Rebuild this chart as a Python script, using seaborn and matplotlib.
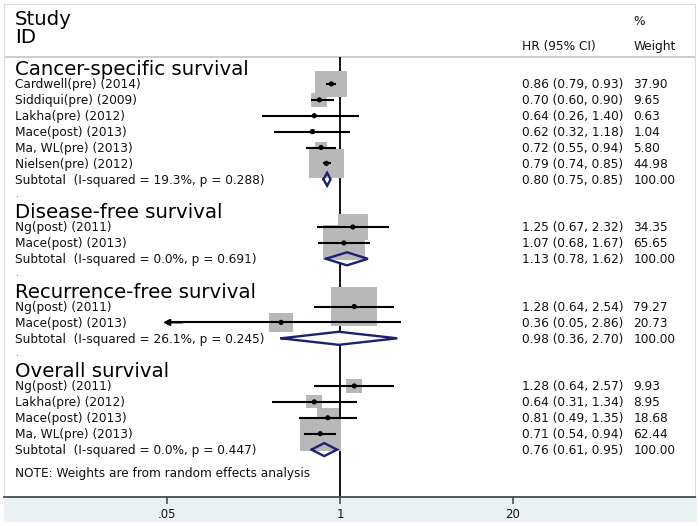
import numpy as np
import pandas as pd
import matplotlib
matplotlib.use("Agg")
import matplotlib.pyplot as plt
from matplotlib.path import Path
from matplotlib.patches import Rectangle
import seaborn as sns

# ---- data ----
groups = ["Cancer-specific survival", "Disease-free survival",
          "Recurrence-free survival", "Overall survival"]

study_names = [
    ["Cardwell(pre) (2014)", "Siddiqui(pre) (2009)", "Lakha(pre) (2012)",
     "Mace(post) (2013)", "Ma, WL(pre) (2013)", "Nielsen(pre) (2012)"],
    ["Ng(post) (2011)", "Mace(post) (2013)"],
    ["Ng(post) (2011)", "Mace(post) (2013)"],
    ["Ng(post) (2011)", "Lakha(pre) (2012)", "Mace(post) (2013)", "Ma, WL(pre) (2013)"],
]
study_hr = [[0.86, 0.70, 0.64, 0.62, 0.72, 0.79], [1.25, 1.07], [1.28, 0.36],
            [1.28, 0.64, 0.81, 0.71]]
study_lo = [[0.79, 0.60, 0.26, 0.32, 0.55, 0.74], [0.67, 0.68], [0.64, 0.05],
            [0.64, 0.31, 0.49, 0.54]]
study_hi = [[0.93, 0.90, 1.40, 1.18, 0.94, 0.85], [2.32, 1.67], [2.54, 2.86],
            [2.57, 1.34, 1.35, 0.94]]
study_weight = [[37.90, 9.65, 0.63, 1.04, 5.80, 44.98], [34.35, 65.65], [79.27, 20.73],
                [9.93, 8.95, 18.68, 62.44]]

sub_hr = [0.80, 1.13, 0.98, 0.76]
sub_lo = [0.75, 0.78, 0.36, 0.61]
sub_hi = [0.85, 1.62, 2.70, 0.95]
sub_i2 = [19.3, 0.0, 26.1, 0.0]
sub_p = [0.288, 0.691, 0.245, 0.447]

x_ticks = [0.05, 1, 20]
x_ticklabels = [".05", "1", "20"]

# ---- build row layout ----
rows = []
headings = []
subtotals = []
dots = []
r = 0
for g, name in enumerate(groups):
    headings.append((r, name))
    for i, s in enumerate(study_names[g]):
        r += 1
        rows.append(dict(row=r, study=s, hr=study_hr[g][i], lo=study_lo[g][i],
                         hi=study_hi[g][i], weight=study_weight[g][i]))
    r += 1
    subtotals.append(r)
    if g < len(groups) - 1:
        r += 1
        dots.append(r)
        r += 1
df = pd.DataFrame(rows)
note_row = r + 1.7

# ---- figure ----
sns.set_theme(style="white")
plt.rcParams['font.family'] = ['DejaVu Sans']

fig = plt.figure(figsize=(7, 5.26), dpi=100)
W, H = 700, 526
ax = fig.add_axes([4 / W, (H - 497) / H, 691 / W, 493 / H])

# light bluish graph region under the plot
fig.patches.append(Rectangle((4 / W, (H - 522) / H), 693 / W, 25 / H,
                             transform=fig.transFigure, facecolor="#E9F1F3",
                             edgecolor="none", zorder=-1))

px_per_ln = 57.7
x0 = np.exp((4 - 340) / px_per_ln)
x1 = np.exp((695 - 340) / px_per_ln)
ax.set_xscale("log")
ax.set_xlim(x0, x1)
row_px = 15.9
ax.set_ylim((497 - 68) / row_px, (4 - 68) / row_px)

header_row = (56.7 - 68) / row_px
ax.axhline(header_row, color="#C8C8C8", lw=1.3, zorder=1)
ax.vlines(1, header_row, (497 - 68) / row_px, color="black", lw=1.3, zorder=2)

# weighted boxes
box = Path([(-1.2, -1), (1.2, -1), (1.2, 1), (-1.2, 1), (-1.2, -1)],
           [Path.MOVETO, Path.LINETO, Path.LINETO, Path.LINETO, Path.CLOSEPOLY])
wmin, wmax = df["weight"].min(), df["weight"].max()
sns.scatterplot(data=df, x="hr", y="row", size="weight", size_norm=(wmin, wmax),
                sizes=(14.0 * wmin, 14.0 * wmax), marker=box, color="#B8B8B8",
                edgecolor="none", linewidth=0, legend=False, ax=ax, zorder=3)

# confidence intervals (arrow when below the lowest axis label)
for _, d in df.iterrows():
    if d["lo"] <= x_ticks[0]:
        ax.hlines(d["row"], x_ticks[0], d["hi"], color="black", lw=1.5, zorder=4)
        ax.annotate("", xy=(x_ticks[0] * 0.93, d["row"]), xytext=(x_ticks[0] * 1.3, d["row"]),
                    arrowprops=dict(arrowstyle="-|>", color="black", lw=1.5,
                                    mutation_scale=9, shrinkA=0, shrinkB=0), zorder=4)
    else:
        ax.hlines(d["row"], d["lo"], d["hi"], color="black", lw=1.5, zorder=4)

sns.scatterplot(data=df, x="hr", y="row", color="black", s=14, edgecolor="none",
                legend=False, ax=ax, zorder=6)

# subtotal diamonds
dh = 0.41
for g, rr in enumerate(subtotals):
    xs = [sub_lo[g], sub_hr[g], sub_hi[g], sub_hr[g], sub_lo[g]]
    ys = [rr, rr - dh, rr, rr + dh, rr]
    ax.fill(xs, ys, facecolor="white", edgecolor="none", zorder=2.5)
    ax.plot(xs, ys, color="#1C2270", lw=1.7, zorder=5, solid_joinstyle="miter")

# ---- text columns ----
tr = ax.get_yaxis_transform()
xl, xhr, xw = 11 / 691, 517.7 / 691, 629.3 / 691
small, big = 8.7, 14.2
tc = "#111111"

ax.text(xl, -2.68, "Study", transform=tr, fontsize=big, color="black", va="baseline")
ax.text(xl, -1.55, "ID", transform=tr, fontsize=big, color="black", va="baseline")
ax.text(xhr, -1.13, "HR (95% CI)", transform=tr, fontsize=small, color=tc, va="baseline")
ax.text(xw, -2.7, "%", transform=tr, fontsize=small, color=tc, va="baseline")
ax.text(xw, -1.13, "Weight", transform=tr, fontsize=small, color=tc, va="baseline")

for rr, name in headings:
    ax.text(xl, rr + 0.45, name, transform=tr, fontsize=big, color="black", va="baseline")

for _, d in df.iterrows():
    b = d["row"] + 0.28
    ax.text(xl, b, d["study"], transform=tr, fontsize=small, color=tc, va="baseline")
    ax.text(xhr, b, f"{d['hr']:.2f} ({d['lo']:.2f}, {d['hi']:.2f})", transform=tr,
            fontsize=small, color=tc, va="baseline")
    ax.text(xw, b, f"{d['weight']:.2f}", transform=tr, fontsize=small, color=tc, va="baseline")

for g, rr in enumerate(subtotals):
    b = rr + 0.28
    ax.text(xl, b, f"Subtotal  (I-squared = {sub_i2[g]:.1f}%, p = {sub_p[g]:.3f})",
            transform=tr, fontsize=small, color=tc, va="baseline")
    ax.text(xhr, b, f"{sub_hr[g]:.2f} ({sub_lo[g]:.2f}, {sub_hi[g]:.2f})", transform=tr,
            fontsize=small, color=tc, va="baseline")
    ax.text(xw, b, "100.00", transform=tr, fontsize=small, color=tc, va="baseline")

for rr in dots:
    ax.text(xl, rr + 0.1, ".", transform=tr, fontsize=6, color=tc, va="baseline")

ax.text(xl, note_row, "NOTE: Weights are from random effects analysis", transform=tr,
        fontsize=small, color=tc, va="baseline")

# ---- axes styling ----
ax.set_xticks(x_ticks)
ax.set_xticklabels(x_ticklabels)
ax.minorticks_off()
ax.set_yticks([])
ax.set_xlabel("")
ax.set_ylabel("")
ax.tick_params(axis="x", direction="out", length=5, width=1.1, color="#444444",
               pad=3, labelsize=8.5, labelcolor="#111111", bottom=True)
for side in ["top", "left", "right"]:
    ax.spines[side].set_color("#DDDDDD")
    ax.spines[side].set_linewidth(0.8)
ax.spines["bottom"].set_color("#4A4A4A")
ax.spines["bottom"].set_linewidth(1.3)

fig.savefig("out.png", dpi=100, facecolor="white")
